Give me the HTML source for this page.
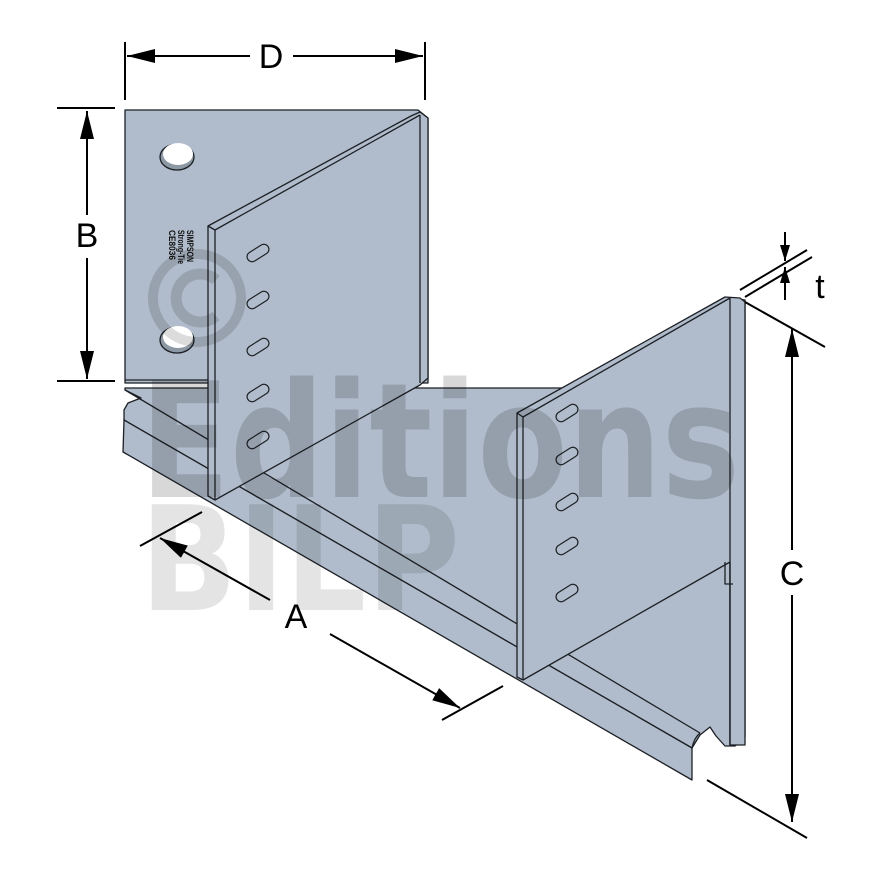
<!DOCTYPE html>
<html><head><meta charset="utf-8"><style>
html,body{margin:0;padding:0;background:#fff;}
svg{display:block;}
</style></head><body>
<svg width="880" height="880" viewBox="0 0 880 880" xmlns="http://www.w3.org/2000/svg">
<defs>
<marker id="ar" viewBox="0 0 28 14" refX="28" refY="7" markerWidth="28" markerHeight="14" markerUnits="userSpaceOnUse" orient="auto"><path d="M0,0 L28,7 L0,14 z" fill="#000"/></marker>
<marker id="ars" viewBox="0 0 16 10" refX="16" refY="5" markerWidth="16" markerHeight="10" markerUnits="userSpaceOnUse" orient="auto"><path d="M0,0 L16,5 L0,10 z" fill="#000"/></marker>
</defs>
<g stroke="#1c1f24" stroke-width="1.3" stroke-linejoin="round" fill="#b0bccb">
<polygon points="125,110 418,110 428,118 428,383 125,383"/>
<line x1="125" y1="380" x2="208" y2="380"/>
<polygon points="125,388 740,388 743,740 735,746 725,746 716,736 710,727 700,735 692,748 124,420 124,410 128,403 141,398 125,390"/>
<polygon points="124,420 692,748 692,780 123,452"/>
<line x1="125" y1="390" x2="700" y2="733"/>
<path d="M692,748 Q694,738 700,733" fill="none"/>
<polygon points="730,298 745,300 745,737 735,744 730,744"/>
<polygon points="208,226 411,116 420,112 428,118 428,378 420,385 215,500 208,496"/>
<line x1="215" y1="230" x2="215" y2="500"/>
<line x1="208" y1="226" x2="215" y2="230"/>
<line x1="215" y1="230" x2="420" y2="115"/>
<line x1="420" y1="115" x2="420" y2="383"/>
<polygon points="517,413 725,297 740,298 745,302 745,745 730,745 730,562 523,680 517,677"/>
<line x1="523" y1="417" x2="523" y2="680"/>
<line x1="517" y1="413" x2="523" y2="417"/>
<line x1="523" y1="417" x2="730" y2="298"/>
<line x1="730" y1="298" x2="730" y2="745"/>
<polyline points="725,562 725,584 733,584" fill="none"/>
</g>
<g stroke="#1c1f24" stroke-width="1.3">
<ellipse cx="177" cy="157" rx="17" ry="13" fill="#8d98a5"/>
<ellipse cx="178" cy="154" rx="15" ry="11" fill="#fff" stroke="none"/>
<ellipse cx="177" cy="340" rx="17" ry="13" fill="#8d98a5"/>
<ellipse cx="178" cy="337" rx="15" ry="11" fill="#fff" stroke="none"/>
</g>
<g fill="#b0bccb" stroke="#1c1f24" stroke-width="1.2">
<rect x="-12" y="-5" width="24" height="10" rx="5" transform="translate(258,253) rotate(-32)"/>
<rect x="-12" y="-5" width="24" height="10" rx="5" transform="translate(258,300) rotate(-32)"/>
<rect x="-12" y="-5" width="24" height="10" rx="5" transform="translate(258,347) rotate(-32)"/>
<rect x="-12" y="-5" width="24" height="10" rx="5" transform="translate(258,393) rotate(-32)"/>
<rect x="-12" y="-5" width="24" height="10" rx="5" transform="translate(258,440) rotate(-32)"/>
<rect x="-12" y="-5" width="24" height="10" rx="5" transform="translate(567,413) rotate(-32)"/>
<rect x="-12" y="-5" width="24" height="10" rx="5" transform="translate(567,456) rotate(-32)"/>
<rect x="-12" y="-5" width="24" height="10" rx="5" transform="translate(567,502) rotate(-32)"/>
<rect x="-12" y="-5" width="24" height="10" rx="5" transform="translate(567,546) rotate(-32)"/>
<rect x="-12" y="-5" width="24" height="10" rx="5" transform="translate(567,593) rotate(-32)"/>
</g>
<text transform="translate(175,230) rotate(90)" font-family="Liberation Sans, sans-serif" font-size="9" font-weight="bold" fill="#111"><tspan x="0" y="-12" textLength="32" lengthAdjust="spacingAndGlyphs">SIMPSON</tspan><tspan x="0" y="-3" textLength="34" lengthAdjust="spacingAndGlyphs">Strong-Tie</tspan><tspan x="0" y="6" textLength="30" lengthAdjust="spacingAndGlyphs">CE8036</tspan></text>
<g style="mix-blend-mode:multiply">
<circle cx="197" cy="298" r="44" fill="none" stroke="#dcdcdc" stroke-width="10"/>
<path d="M216,280 A24,24 0 1 0 216,316" fill="none" stroke="#dcdcdc" stroke-width="11"/>
<text x="140" y="497" font-family="DejaVu Sans, sans-serif" font-weight="bold" font-size="160" fill="#d8d8d8" textLength="600" lengthAdjust="spacingAndGlyphs">Editions</text>
<text x="140" y="610" font-family="DejaVu Sans, sans-serif" font-weight="bold" font-size="145" fill="#e4e4e4" textLength="320" lengthAdjust="spacingAndGlyphs">BILP</text>
</g>
<g stroke="#000" stroke-width="2" fill="none">
<line x1="125" y1="42" x2="125" y2="100"/>
<line x1="425" y1="42" x2="425" y2="100"/>
<line x1="250" y1="56" x2="127" y2="56" marker-end="url(#ar)"/>
<line x1="293" y1="56" x2="423" y2="56" marker-end="url(#ar)"/>
<line x1="57" y1="108" x2="115" y2="108"/>
<line x1="57" y1="381" x2="115" y2="381"/>
<line x1="87" y1="215" x2="87" y2="111" marker-end="url(#ar)"/>
<line x1="87" y1="258" x2="87" y2="379" marker-end="url(#ar)"/>
<line x1="745" y1="302" x2="825" y2="347"/>
<line x1="707" y1="780" x2="807" y2="838"/>
<line x1="792" y1="550" x2="792" y2="329" marker-end="url(#ar)"/>
<line x1="792" y1="595" x2="792" y2="822" marker-end="url(#ar)"/>
<line x1="140" y1="546" x2="202" y2="512"/>
<line x1="442" y1="720" x2="503" y2="686"/>
<line x1="270" y1="600" x2="160" y2="538" marker-end="url(#ar)"/>
<line x1="330" y1="634" x2="460" y2="708" marker-end="url(#ar)"/>
<line x1="740" y1="290" x2="807" y2="250"/>
<line x1="745" y1="297" x2="812" y2="257"/>
<line x1="785" y1="232" x2="785" y2="261" marker-end="url(#ars)"/>
<line x1="785" y1="300" x2="785" y2="267" marker-end="url(#ars)"/>
</g>
<g font-family="Liberation Sans, sans-serif" font-size="34" fill="#000" text-anchor="middle">
<text x="271" y="68">D</text>
<text x="87" y="247">B</text>
<text x="792" y="585">C</text>
<text x="296" y="628">A</text>
<text x="820" y="298">t</text>
</g>
</svg>
</body></html>
